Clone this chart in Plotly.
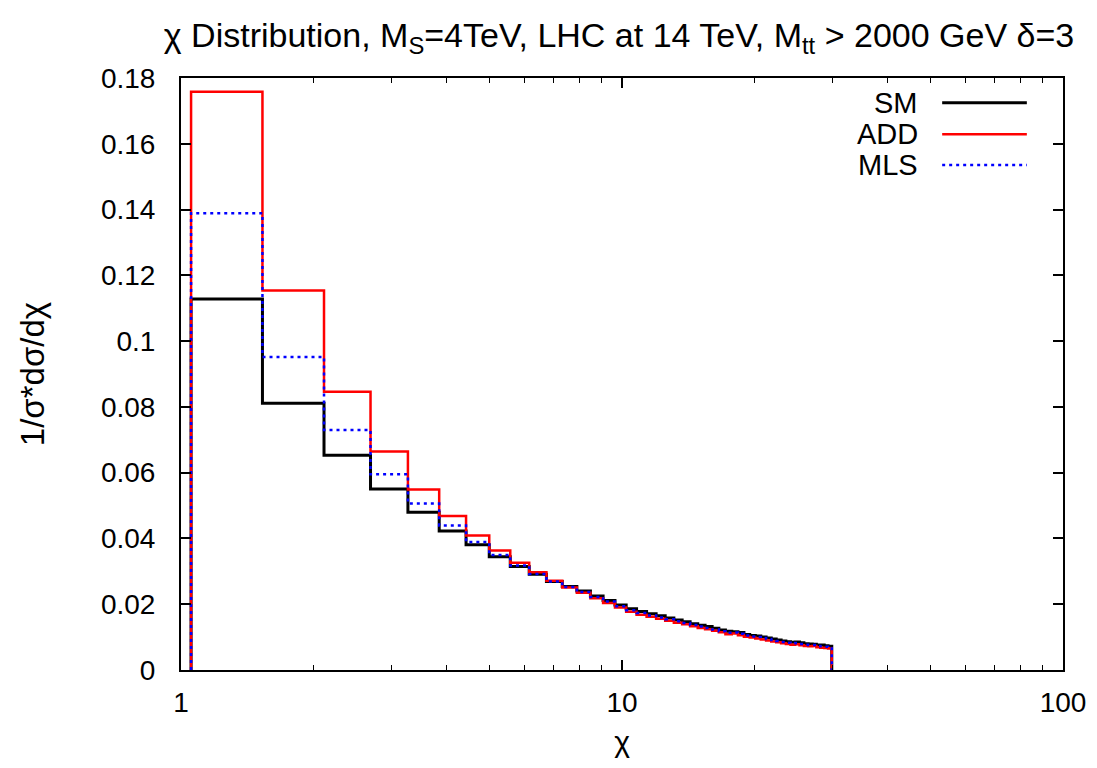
import plotly.graph_objects as go

# Bin edges in chi
edges = [1.054, 1.53, 2.11, 2.69, 3.27, 3.85, 4.43, 5.00, 5.58, 6.16, 6.74,
         7.32, 7.90, 8.48, 9.06, 9.64, 10.22, 10.79, 11.37, 11.95, 12.53,
         13.11, 13.69, 14.27, 14.85, 15.43, 16.01, 16.58, 17.16, 17.74, 18.32,
         18.90, 19.48, 20.06, 20.64, 21.22, 21.80, 22.37, 22.95, 23.53, 24.11,
         24.69, 25.27, 25.85, 26.43, 27.01, 27.59, 28.16, 28.74, 29.32, 29.90]

sm = [0.1128, 0.0811, 0.0653, 0.0550, 0.0480, 0.0423, 0.0381, 0.0344, 0.0315, 0.0291,
      0.0269, 0.0254, 0.0240, 0.0225, 0.0211, 0.0198, 0.0186, 0.0178, 0.0171, 0.0165,
      0.0158, 0.0152, 0.0147, 0.0141, 0.0136, 0.0132, 0.0127, 0.0122, 0.0118, 0.0116,
      0.0114, 0.0108, 0.0105, 0.0103, 0.0100, 0.0097, 0.0094, 0.0091, 0.0088, 0.0086,
      0.0084, 0.0085, 0.0083, 0.0080, 0.0079, 0.0078, 0.0076, 0.0076, 0.0074, 0.0072]

add = [0.1758, 0.1154, 0.0846, 0.0664, 0.0549, 0.0468, 0.0409, 0.0363, 0.0326, 0.0297,
       0.0271, 0.0251, 0.0235, 0.0218, 0.0204, 0.0190, 0.0177, 0.0168, 0.0162, 0.0156,
       0.0150, 0.0144, 0.0139, 0.0133, 0.0128, 0.0124, 0.0119, 0.0115, 0.0109, 0.0111,
       0.0106, 0.0101, 0.0099, 0.0096, 0.0093, 0.0090, 0.0087, 0.0084, 0.0081, 0.0079,
       0.0077, 0.0078, 0.0075, 0.0073, 0.0072, 0.0073, 0.0069, 0.0068, 0.0067, 0.0065]

mls = [0.1389, 0.0952, 0.0730, 0.0595, 0.0506, 0.0439, 0.0389, 0.0350, 0.0318, 0.0292,
       0.0269, 0.0252, 0.0237, 0.0222, 0.0208, 0.0194, 0.0182, 0.0173, 0.0166, 0.0160,
       0.0154, 0.0148, 0.0143, 0.0137, 0.0132, 0.0128, 0.0123, 0.0118, 0.0113, 0.0114,
       0.0110, 0.0105, 0.0102, 0.0100, 0.0097, 0.0094, 0.0091, 0.0088, 0.0085, 0.0083,
       0.0081, 0.0082, 0.0079, 0.0077, 0.0076, 0.0076, 0.0073, 0.0072, 0.0071, 0.0069]

series = [("SM", sm, "black", 3, "solid"),
          ("ADD", add, "#ff0000", 2.5, "solid"),
          ("MLS", mls, "#0000ff", 2.5, "3px,4px")]

fig = go.Figure()
for name, vals, color, w, dash in series:
    xs = [edges[0]] + edges
    ys = [0] + vals + [0]
    fig.add_trace(go.Scatter(x=xs, y=ys, mode="lines", name=name,
                             line=dict(color=color, width=w, dash=dash, shape="hv"),
                             showlegend=False))

# gnuplot-style legend (text right-aligned, sample line to the right)
leg_y = [0.958, 0.905, 0.853]
for (name, vals, color, w, dash), yy in zip(series, leg_y):
    fig.add_annotation(x=0.838, y=yy, xref="paper", yref="paper", text=name,
                       showarrow=False, xanchor="right", yanchor="middle",
                       font=dict(size=29, color="black", family="Liberation Sans"))
    fig.add_shape(type="line", xref="paper", yref="paper", x0=0.863, x1=0.959,
                  y0=yy, y1=yy, line=dict(color=color, width=w, dash=dash))

fig.update_layout(
    width=1097, height=768,
    paper_bgcolor="white", plot_bgcolor="white",
    margin=dict(l=173, r=42, t=70, b=106),
    font=dict(family="Liberation Sans", size=28, color="black"),
    title=dict(text="χ Distribution, M<sub>S</sub>=4TeV, LHC at 14 TeV, M<sub>tt</sub> > 2000 GeV δ=3",
               x=0.557, xanchor="center", y=0.965, yanchor="middle",
               font=dict(family="Liberation Sans", size=34)),
    xaxis=dict(type="log", range=[0, 2], showline=True, linecolor="black", linewidth=2,
               mirror="allticks", ticks="inside", ticklen=10, tickwidth=1.5, tickcolor="black",
               tickvals=[1, 10, 100], ticktext=["1", "10", "100"], showgrid=False, zeroline=False,
               ticklabelstandoff=6, automargin=False,
               minor=dict(ticks="inside", ticklen=5, tickwidth=1, tickcolor="black",
                          tickvals=[2, 3, 4, 5, 6, 7, 8, 9, 20, 30, 40, 50, 60, 70, 80, 90],
                          showgrid=False),
               title=dict(text="χ", font=dict(size=30), standoff=14)),
    yaxis=dict(range=[0, 0.18], showline=True, linecolor="black", linewidth=2,
               mirror="allticks", ticks="inside", ticklen=10, tickwidth=1.5, tickcolor="black",
               tickvals=[0, 0.02, 0.04, 0.06, 0.08, 0.1, 0.12, 0.14, 0.16, 0.18],
               ticktext=["0", "0.02", "0.04", "0.06", "0.08", "0.1", "0.12", "0.14", "0.16", "0.18"],
               showgrid=False, zeroline=False, ticklabelstandoff=18, automargin=False,
               title=dict(text="1/σ*dσ/dχ", font=dict(size=33), standoff=46)),
)

fig.write_html("out.html")
